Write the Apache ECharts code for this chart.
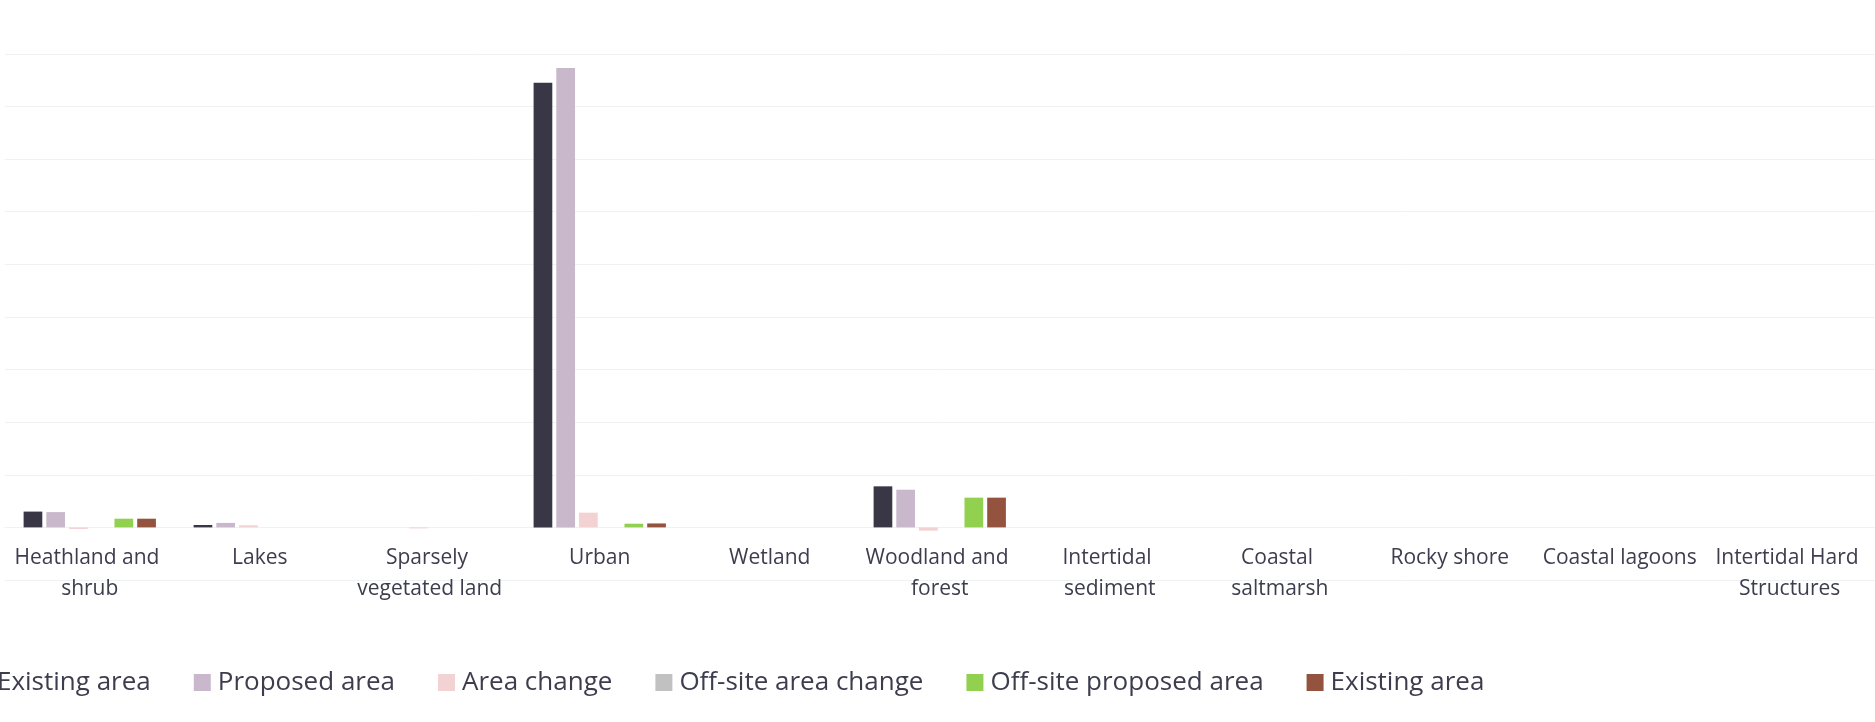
<!DOCTYPE html>
<html>
<head>
<meta charset="utf-8">
<title>Habitat area by broad habitat type</title>
<script src="https://cdn.jsdelivr.net/npm/echarts@6/dist/echarts.min.js"></script>
<style>
  html, body { margin: 0; padding: 0; background: #ffffff; }
  #chart { width: 1875px; height: 722px; }
</style>
</head>
<body>
<div id="chart"></div>
<script>
// Broad habitat categories along the x axis
const categories = [
  'Heathland and shrub', 'Lakes', 'Sparsely vegetated land', 'Urban', 'Wetland',
  'Woodland and forest', 'Intertidal sediment', 'Coastal saltmarsh', 'Rocky shore',
  'Coastal lagoons', 'Intertidal Hard Structures'
];

// Area values per category (hectares)
const existingArea        = [0.30, 0.045, 0, 8.45, 0, 0.78, 0, 0, 0, 0, 0];
const proposedArea        = [0.29, 0.085, 0, 8.73, 0, 0.716, 0, 0, 0, 0, 0];
const areaChange          = [-0.03, 0.04, -0.02, 0.28, 0, -0.063, 0, 0, 0, 0, 0];
const offsiteAreaChange   = [0, 0, 0, 0, 0, 0, 0, 0, 0, 0, 0];
const offsiteProposedArea = [0.165, 0, 0, 0.07, 0, 0.565, 0, 0, 0, 0, 0];
const offsiteExistingArea = [0.165, 0, 0, 0.075, 0, 0.565, 0, 0, 0, 0, 0];

// Series keys and the legend text shown for each
const seriesKeys   = ['existing', 'proposed', 'change', 'offsiteChange', 'offsiteProposed', 'offsiteExisting'];
const legendLabels = ['Existing area', 'Proposed area', 'Area change', 'Off-site area change', 'Off-site proposed area', 'Existing area'];
const seriesValues = [existingArea, proposedArea, areaChange, offsiteAreaChange, offsiteProposedArea, offsiteExistingArea];
const seriesColors = ['#393745', '#c9b7cb', '#f3d2d4', '#c1c1c1', '#92d050', '#93533f'];

const FONT = "'Open Sans', 'Noto Sans', sans-serif";
const TEXT_COLOR = '#3d3d4e';
const GRID_COLOR = '#eef2f2';

const chart = echarts.init(document.getElementById('chart'), null, { renderer: 'canvas' });

const labelOf = {};
seriesKeys.forEach((k, i) => { labelOf[k] = legendLabels[i]; });

chart.setOption({
  backgroundColor: '#ffffff',
  animation: false,
  color: seriesColors,
  legend: {
    data: seriesKeys,
    left: -27,
    top: 669.5,
    padding: 0,
    itemWidth: 17,
    itemHeight: 17,
    itemGap: 43,
    icon: 'rect',
    formatter: name => labelOf[name],
    textStyle: { fontFamily: FONT, fontSize: 26, color: TEXT_COLOR, padding: [0, 0, 0, 2] }
  },
  grid: { left: 4.75, right: -5, top: 53.8, bottom: 142, containLabel: false },
  xAxis: {
    type: 'category',
    data: categories,
    axisLine: { show: true, onZero: true, lineStyle: { color: GRID_COLOR, width: 1 } },
    axisTick: { show: false },
    axisLabel: {
      interval: 0,
      // labels sit just under the zero line, one grid step above the axis edge
      margin: -37,
      width: 165,
      overflow: 'break',
      lineHeight: 31,
      fontFamily: FONT,
      fontSize: 21,
      color: TEXT_COLOR
    }
  },
  yAxis: {
    type: 'value',
    min: -1,
    max: 9,
    interval: 1,
    axisLine: { show: false },
    axisTick: { show: false },
    axisLabel: { show: false },
    splitLine: { lineStyle: { color: GRID_COLOR, width: 1 } }
  },
  series: seriesKeys.map((k, i) => ({
    name: k,
    type: 'bar',
    data: seriesValues[i],
    barWidth: 18.7,
    barGap: '21.5%',
    itemStyle: { color: seriesColors[i] }
  }))
});
</script>
</body>
</html>
